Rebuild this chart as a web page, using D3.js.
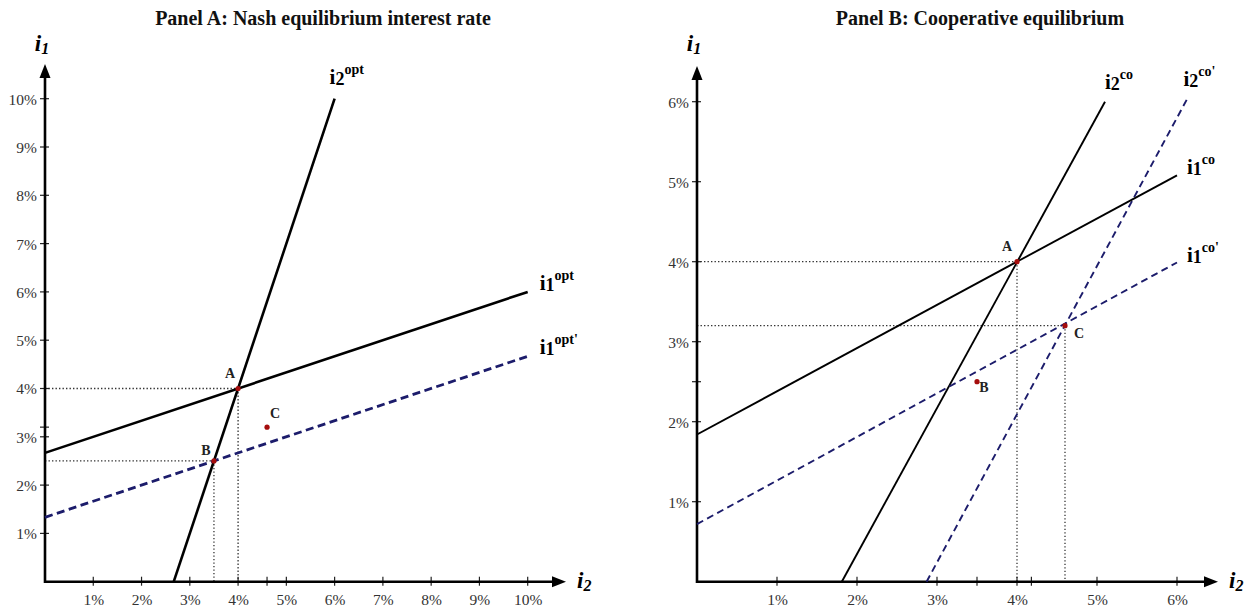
<!DOCTYPE html>
<html><head><meta charset="utf-8">
<script src="https://cdn.jsdelivr.net/npm/d3@7"></script>
<style>
html,body{margin:0;padding:0;background:#fff;}
svg{display:block;}
text{font-family:"Liberation Serif","Times New Roman",serif;}
</style></head>
<body>
<svg id="chart" width="1256" height="610"></svg>
<script>
// ---------- DATA ----------
const titleA = "Panel A: Nash equilibrium interest rate";
const titleB = "Panel B: Cooperative equilibrium";

const ticksA = [1,2,3,4,5,6,7,8,9,10];
const extraTicksAX = [4.6];
const extraTicksAY = [3.2];
const lineA_i2opt = [[2.667,0],[6,10]];
const lineA_i1opt = [[0,2.667],[10,6]];
const lineA_i1optP = [[0,1.333],[10,4.667]];
const pointsA = [{label:"A",x:4,y:4},{label:"B",x:3.5,y:2.5},{label:"C",x:4.6,y:3.2}];
const guidesA = [[4,4],[3.5,2.5]];

const ticksB = [1,2,3,4,5,6];
const extraTicksBX = [3.5,4.18];
const extraTicksBY = [2.5];
const lineB_i2co = [[1.81,0],[5.1,6.0]];
const lineB_i2coP = [[2.87,0],[6.13,6.04]];
const lineB_i1co = [[0,1.84],[6,5.08]];
const lineB_i1coP = [[0,0.72],[6,3.99]];
const pointsB = [{label:"A",x:4,y:4},{label:"B",x:3.5,y:2.5},{label:"C",x:4.6,y:3.2}];
const guidesB = [[4,4],[4.6,3.2]];

// ---------- DRAW ----------
const svg = d3.select("#chart");
const NAVY = "#1c1c6b", RED = "#a50d0d", GREY = "#333";

function panel(cfg){
  const g = svg.append("g");
  const x = d3.scaleLinear().domain(cfg.xdom).range(cfg.xr);
  const y = d3.scaleLinear().domain(cfg.ydom).range(cfg.yr);
  const x0 = x(0), y0 = y(0);

  // title
  g.append("text").attr("x", cfg.titleX).attr("y", 25).attr("text-anchor","middle")
    .attr("font-size", 20).attr("font-weight","bold").attr("fill","#111").text(cfg.title);

  // guides (dotted)
  cfg.guides.forEach(([gx,gy])=>{
    g.append("line").attr("x1",x0).attr("x2",x(gx)).attr("y1",y(gy)).attr("y2",y(gy))
      .attr("stroke",GREY).attr("stroke-width",1.3).attr("stroke-dasharray","1.4,2.1");
    g.append("line").attr("x1",x(gx)).attr("x2",x(gx)).attr("y1",y(gy)).attr("y2",y0)
      .attr("stroke",GREY).attr("stroke-width",1.3).attr("stroke-dasharray","1.4,2.1");
  });

  // axes via d3 axis generators
  const xAxis = d3.axisBottom(x).tickValues(cfg.ticks).tickSize(0).tickPadding(12)
    .tickFormat(d=>d+"%");
  const yAxis = d3.axisLeft(y).tickValues(cfg.ticks).tickSize(0).tickPadding(8)
    .tickFormat(d=>d+"%");
  const gx = g.append("g").attr("transform",`translate(0,${y0})`).call(xAxis);
  const gy = g.append("g").attr("transform",`translate(${x0},0)`).call(yAxis);
  [gx,gy].forEach(a=>{
    a.attr("font-family",'"Liberation Serif",serif').attr("font-size",15.5);
    a.select(".domain").remove();
    a.selectAll("text").attr("font-size",15.5).attr("fill","#333");
  });
  gy.selectAll("text").attr("dy","0.35em");
  // tick marks crossing axis
  const allX = cfg.ticks.concat(cfg.exX), allY = cfg.ticks.concat(cfg.exY);
  g.selectAll(null).data(allX).enter().append("line")
    .attr("x1",d=>x(d)).attr("x2",d=>x(d)).attr("y1",y0-5).attr("y2",y0+4)
    .attr("stroke","#222").attr("stroke-width",1.2);
  g.selectAll(null).data(allY).enter().append("line")
    .attr("y1",d=>y(d)).attr("y2",d=>y(d)).attr("x1",x0-5).attr("x2",x0+4)
    .attr("stroke","#222").attr("stroke-width",1.2);

  // axis lines with arrows
  g.append("line").attr("x1",x0).attr("x2",cfg.xArrow-10).attr("y1",y0).attr("y2",y0)
    .attr("stroke","#000").attr("stroke-width",2.6);
  g.append("path").attr("d",`M${cfg.xArrow},${y0} L${cfg.xArrow-14},${y0-5.5} L${cfg.xArrow-14},${y0+5.5}Z`).attr("fill","#000");
  g.append("line").attr("x1",x0).attr("x2",x0).attr("y1",y0+1.3).attr("y2",cfg.yArrow+10)
    .attr("stroke","#000").attr("stroke-width",2.6);
  g.append("path").attr("d",`M${x0},${cfg.yArrow} L${x0-5.5},${cfg.yArrow+14} L${x0+5.5},${cfg.yArrow+14}Z`).attr("fill","#000");

  // axis titles
  const t1 = g.append("text").attr("x",x0-3).attr("y",51).attr("text-anchor","middle")
    .attr("font-weight","bold").attr("font-style","italic").attr("fill","#000");
  t1.append("tspan").attr("font-size",23).text("i");
  t1.append("tspan").attr("font-size",16).attr("dy",3).text("1");
  const t2 = g.append("text").attr("x",cfg.xArrow+11).attr("y",y0+6)
    .attr("font-weight","bold").attr("font-style","italic").attr("fill","#000");
  t2.append("tspan").attr("font-size",23).text("i");
  t2.append("tspan").attr("font-size",16).attr("dy",3).text("2");

  // curves
  const lineGen = d3.line().x(d=>x(d[0])).y(d=>y(d[1]));
  cfg.lines.forEach(L=>{
    g.append("path").attr("d",lineGen(L.data)).attr("fill","none")
      .attr("stroke",L.dashed?NAVY:"#000").attr("stroke-width",L.dashed?cfg.dw:cfg.sw)
      .attr("stroke-dasharray",L.dashed?cfg.dash:null);
    const end = L.data[1];
    const t = g.append("text").attr("x",x(end[0])+L.ldx).attr("y",y(end[1])+L.ldy)
      .attr("font-weight","bold").attr("fill","#000");
    t.append("tspan").attr("font-size",21).text("i");
    t.append("tspan").attr("font-size",18).attr("dy",1).text(L.sub);
    t.append("tspan").attr("font-size",14).attr("dy",-11).text(L.sup);
  });

  // points
  cfg.points.forEach(p=>{
    g.append("circle").attr("cx",x(p.x)).attr("cy",y(p.y)).attr("r",2.6).attr("fill",RED);
    const o = cfg.lblOff[p.label];
    g.append("text").attr("x",x(p.x)+o[0]).attr("y",y(p.y)+o[1]).attr("text-anchor","middle")
      .attr("font-size",14).attr("font-weight","bold").attr("fill","#222").text(p.label);
  });
}

panel({
  title:titleA, titleX:323, xdom:[0,10], ydom:[0,10], xr:[45,527.7], yr:[581.7,98.7],
  ticks:ticksA, exX:extraTicksAX, exY:extraTicksAY, xArrow:566, yArrow:64,
  guides:guidesA, sw:2.6, dw:2.8, dash:"8,4.5",
  lines:[
    {data:lineA_i2opt, dashed:false, sub:"2", sup:"opt", ldx:-5, ldy:-15},
    {data:lineA_i1opt, dashed:false, sub:"1", sup:"opt", ldx:12, ldy:-2},
    {data:lineA_i1optP, dashed:true, sub:"1", sup:"opt'", ldx:12, ldy:-2}
  ],
  points:pointsA, lblOff:{A:[-8,-11],B:[-8,-6],C:[8,-9]}
});

panel({
  title:titleB, titleX:980, xdom:[0,6], ydom:[0,6], xr:[697,1177], yr:[581.7,101.7],
  ticks:ticksB, exX:extraTicksBX, exY:extraTicksBY, xArrow:1218, yArrow:66,
  guides:guidesB, sw:1.9, dw:1.9, dash:"7,4.5",
  lines:[
    {data:lineB_i2co, dashed:false, sub:"2", sup:"co", ldx:0, ldy:-13},
    {data:lineB_i2coP, dashed:true, sub:"2", sup:"co'", ldx:-4, ldy:-13},
    {data:lineB_i1co, dashed:false, sub:"1", sup:"co", ldx:10, ldy:-1},
    {data:lineB_i1coP, dashed:true, sub:"1", sup:"co'", ldx:10, ldy:-1}
  ],
  points:pointsB, lblOff:{A:[-10,-11],B:[7,10],C:[14,12]}
});
</script>
</body></html>
